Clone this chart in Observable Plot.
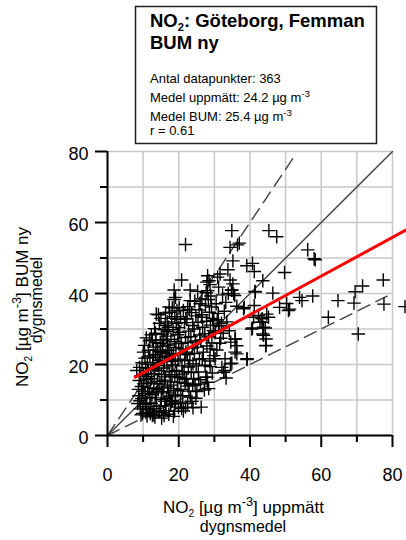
<!DOCTYPE html>
<html>
<head>
<meta charset="utf-8">
<script src="https://cdn.jsdelivr.net/npm/d3@7"></script>
<script src="https://cdn.jsdelivr.net/npm/@observablehq/plot@0.6"></script>
<style>
  html, body { margin: 0; padding: 0; background: white; }
  #wrap { position: relative; width: 406px; height: 540px; overflow: hidden; font-family: "Liberation Sans", Arial, sans-serif; }
  #overlay { position: absolute; left: 0; top: 0; pointer-events: none; }
</style>
</head>
<body>
<div id="wrap"></div>
<script>
// ---- Data ----
const titleLines = ["Göteborg, Femman", "BUM ny"];
const nPoints = [363];
const meanMeasured = [24.2];
const meanBum = [25.4];
const rValue = [0.61];

const axisMajorTicks = [0, 20, 40, 60, 80];
const axisMinorTicks = [10, 30, 50, 70];
const gridTicks = [0, 10, 20, 30, 40, 50, 60, 70, 80];

// regression line (BUM = intercept + slope * measured), drawn over its x-range
const fitIntercept = [12.2];
const fitSlope = [0.545];
const fitRange = [7.8, 84.5];

// reference lines through origin: slope and x end
const refSlopes = [1.5, 1, 0.5];
const refEndX = [52.2, 80, 78.5];
const refDash = ["13,7", null, "13,7"];

// scatter points: [measured, BUM]
const densePoints = [
  [8.2,18.3],[9.0,19.2],[8.5,9.0],[9.2,7.5],[8.8,11.2],[9.5,13.8],[9.8,6.2],[8.9,15.5],[9.6,10.4],[10.0,8.1],[9.3,16.8],[9.9,12.5],[8.7,13.0],[9.4,5.8],[10.1,17.2],[9.7,20.5],[10.2,14.6],[9.1,9.8],
  [10.1,23.5],[10.5,21.8],[10.8,6.5],[11.0,9.2],[10.6,11.8],[11.3,13.5],[10.9,15.9],[11.5,18.2],[11.2,20.1],[10.4,25.4],[11.8,26.7],[11.6,7.3],[11.9,10.7],[11.1,5.5],[10.7,19.0],[11.7,12.3],[11.4,16.6],[11.9,22.4],[11.5,24.0],[12.0,14.8],
  [12.2,9.0],[12.5,11.5],[12.8,6.8],[13.0,13.2],[12.4,16.0],[13.3,18.5],[12.7,20.6],[13.5,22.8],[12.9,24.9],[13.6,26.2],[12.3,28.4],[13.2,30.1],[13.7,34.2],[14.3,34.0],[12.6,5.6],[13.8,8.2],[13.4,10.6],[14.0,15.3],[13.1,17.4],[13.9,19.8],[12.8,21.9],[14.1,24.1],[13.5,28.8],[13.0,7.6],[13.7,12.0],
  [14.6,31.6],[15.0,33.0],[15.3,28.5],[14.8,26.0],[15.5,23.4],[14.5,21.2],[15.8,19.0],[15.2,17.2],[14.7,14.5],[15.6,12.4],[15.1,10.1],[14.9,8.3],[15.7,6.4],[15.4,25.1],[14.4,18.2],[16.0,15.6],[15.9,29.8],[15.0,22.0],[15.3,13.4],[16.0,20.8],[15.8,26.9],[15.2,4.9],[16.1,9.6],[14.9,23.6],
  [16.3,34.5],[17.4,34.7],[16.8,32.0],[17.2,30.5],[16.5,28.0],[17.8,27.1],[16.9,25.5],[17.5,24.0],[16.4,22.3],[17.9,21.0],[16.7,19.6],[17.3,18.0],[16.2,16.5],[17.6,15.1],[16.9,13.7],[17.1,12.0],[16.6,10.5],[17.7,8.8],[16.4,7.0],[17.2,6.0],[18.0,33.0],[16.8,29.3],[18.0,22.7],[17.8,14.2],[17.9,9.5],[17.0,23.1],[18.1,17.1],[17.3,36.2],
  [18.2,35.9],[19.5,35.2],[18.9,33.5],[19.3,31.6],[18.4,29.8],[19.7,28.4],[18.8,26.5],[19.2,24.8],[18.5,23.0],[19.8,21.5],[18.3,19.9],[19.4,18.3],[18.9,16.6],[19.6,15.0],[18.6,13.2],[19.1,11.4],[18.2,9.9],[19.9,8.0],[18.8,6.8],[19.5,32.7],[19.0,21.0],[19.7,12.6],[20.0,25.9],[20.0,30.4],
  [21.3,35.2],[20.5,33.5],[21.6,31.8],[20.3,29.1],[21.9,27.6],[20.7,26.0],[21.2,24.4],[20.4,22.9],[21.7,21.3],[20.9,19.6],[21.5,18.0],[20.2,16.3],[21.8,14.7],[20.6,13.0],[21.1,11.2],[20.5,9.4],[21.9,8.0],[20.1,36.0],[22.0,23.5],[21.6,15.9],[22.0,33.0],[21.3,6.9],
  [22.5,36.3],[23.6,34.6],[22.3,32.8],[23.9,31.0],[22.8,29.4],[23.4,27.8],[22.6,26.2],[23.8,24.6],[22.4,22.8],[23.1,21.1],[22.7,19.3],[23.5,17.7],[22.2,16.0],[23.9,14.3],[22.9,12.5],[23.3,10.8],[22.5,9.0],[24.0,7.8],[23.0,35.5],[24.0,20.2],
  [24.5,37.8],[25.7,35.4],[24.8,33.7],[25.4,31.9],[24.3,30.0],[25.9,28.3],[24.7,26.6],[25.2,24.9],[24.4,23.1],[25.8,21.4],[24.9,19.6],[25.5,17.9],[24.2,16.1],[24.6,14.2],[25.1,12.4],[24.8,10.5],
  [27.5,36.6],[26.4,34.0],[27.8,32.2],[26.7,30.5],[27.3,28.7],[26.2,26.9],[27.9,25.2],[26.6,21.6],[27.4,19.8],[27.6,16.4],[26.1,14.5],[27.2,12.8],[27.7,40.2],[26.5,38.5],
  [28.3,38.3],[29.2,36.2],[28.6,34.7],[29.5,33.0],[28.9,31.1],[29.7,29.5],[28.4,27.8],[29.3,26.1],[29.8,22.5],[28.7,21.0],[29.4,17.6],[29.0,39.3],
  [30.8,32.6],[31.4,30.9],[30.3,29.0],[31.8,27.4],[31.1,34.4],[32.0,31.6],[32.5,28.8],[31.5,26.0],[32.8,35.0],[33.5,32.0],[34.8,41.0],[33.9,40.0],[34.2,29.5],[33.2,37.5],[32.3,39.6],[31.2,41.8],
  [12.0,6.2],[13.3,5.2],[14.5,6.9],[15.9,5.6],[16.3,8.3],[18.5,5.4],[10.6,8.8],[12.1,18.9],[14.2,12.9],[17.5,11.0],[19.0,9.0],[20.8,7.6],[22.6,13.9],[23.7,9.6],[21.0,17.3],[12.6,26.9],[10.9,27.5],[16.2,31.0],[19.1,38.9],[13.0,5.9]
];
const sparsePoints = [
  [34.9,57.7],[45.3,57.7],[47.5,56.0],[21.9,53.8],[34.4,53.0],[36.5,53.7],[37.0,54.2],[56.2,52.3],[58.3,49.5],[58.0,49.8],
  [35.2,49.2],[39.1,47.8],[40.7,48.5],[41.2,46.2],[33.8,46.7],[49.7,45.9],[20.8,43.8],[28.1,45.0],[28.5,43.6],[30.9,44.6],
  [31.6,45.5],[34.4,43.8],[35.2,42.7],[43.6,43.6],[77.4,43.8],[71.6,42.1],[69.5,40.5],[18.7,41.0],[23.2,41.0],[25.3,40.6],
  [28.1,40.8],[28.8,42.5],[35.4,39.9],[41.4,40.6],[46.4,40.1],[57.6,39.3],[53.9,38.9],[54.6,38.0],[64.7,38.0],[69.2,37.3],
  [77.6,37.0],[83.5,36.3],[18.7,38.3],[23.2,38.0],[26.0,37.1],[30.5,37.1],[48.3,36.1],[50.3,37.2],[51.1,35.6],[41.2,36.6],
  [38.4,36.1],[36.3,36.4],[42.4,33.8],[44.7,34.2],[45.2,33.3],[62.0,33.3],[70.4,28.6],[40.5,30.0],[42.8,31.9],[43.8,30.5],
  [43.6,28.6],[44.5,27.2],[44.4,25.3],[35.8,27.2],[36.3,25.3],[35.8,23.5],[34.6,26.3],[39.1,21.4],[34.9,20.4],[33.0,21.6],
  [33.0,18.3],[33.3,16.2],[32.1,19.2],[30.7,24.1],[30.2,21.6],[27.9,16.4],[28.1,15.0],[26.3,8.0],[28.8,19.4],[25.6,15.7],
  [26.9,23.5],[28.8,24.4],[43.4,31.9],[44.3,30.3],[43.8,28.2],[44.5,25.4],[40.7,30.3],[39.2,21.6],[35.9,27.2],[36.3,23.0],
  [34.5,20.2],[32.6,17.8],[28.4,13.2],[27.9,43.2],[34.9,40.9],[35.7,39.4],[41.5,40.4],[38.2,35.7],[41.0,33.3],[43.4,32.9],
  [50.8,35.2],[26.5,33.3],[29.8,32.4],[31.2,31.0]
];

// ---- Build tables for the library ----
const points = densePoints.concat(sparsePoints).map(([x, y]) => ({x, y}));
const fitLine = fitRange.map(x => ({x, y: fitIntercept[0] + fitSlope[0] * x}));
const refLines = refSlopes.flatMap((s, i) => [0, refEndX[i]].map(x => ({x, y: s * x, id: i})));

const FONT = '"Liberation Sans", Arial, Helvetica, sans-serif';
const W = 406, H = 540, ML = 107, MR = 14, MT = 151, MB = 105;
// tick lengths converted from pixels to data units
const unitX = 80 / (W - ML - MR), unitY = 80 / (H - MT - MB);
const majorLen = 12, minorLen = 7;

const chart = Plot.plot({
  width: W,
  height: H,
  marginLeft: ML,
  marginRight: MR,
  marginTop: MT,
  marginBottom: MB,
  x: {domain: [0, 80], axis: null},
  y: {domain: [0, 80], axis: null},
  style: {fontFamily: FONT, fontSize: "18px", color: "black", background: "white", overflow: "visible"},
  marks: [
    Plot.ruleX(gridTicks, {x: d => d, y1: 0, y2: 80, stroke: "#c8c8c8", strokeWidth: 1.5}),
    Plot.ruleY(gridTicks, {y: d => d, x1: 0, x2: 80, stroke: "#c8c8c8", strokeWidth: 1.5}),
    ...refSlopes.map((s, i) => Plot.line(refLines.filter(d => d.id === i), {
      x: "x", y: "y", stroke: "#404040", strokeWidth: 1.4, strokeDasharray: refDash[i]
    })),
    Plot.dot(points, {x: "x", y: "y", symbol: "plus", r: 4.4, stroke: "black", strokeWidth: 1.4}),
    Plot.line(fitLine, {x: "x", y: "y", stroke: "#ff0000", strokeWidth: 3}),
    // axis lines
    Plot.ruleX([0], {x: d => d, y1: 0, y2: 80, stroke: "black", strokeWidth: 2}),
    Plot.ruleY([0], {y: d => d, x1: 0, x2: 80, stroke: "black", strokeWidth: 2}),
    // ticks
    Plot.ruleX(axisMajorTicks, {x: d => d, y1: 0, y2: -majorLen * unitY, stroke: "black", strokeWidth: 2}),
    Plot.ruleX(axisMinorTicks, {x: d => d, y1: 0, y2: -minorLen * unitY, stroke: "black", strokeWidth: 2}),
    Plot.ruleY(axisMajorTicks, {y: d => d, x1: 0, x2: -majorLen * unitX, stroke: "black", strokeWidth: 2}),
    Plot.ruleY(axisMinorTicks, {y: d => d, x1: 0, x2: -minorLen * unitX, stroke: "black", strokeWidth: 2}),
    // tick labels
    Plot.text(axisMajorTicks, {x: d => d, y: 0, dy: 40, text: d => String(d), fontSize: 18, fill: "black"}),
    Plot.text(axisMajorTicks, {x: 0, y: d => d, dx: -19, dy: 3, text: d => String(d), textAnchor: "end", fontSize: 18, fill: "black"})
  ]
});

const wrap = document.getElementById("wrap");
wrap.appendChild(chart);

// ---- Overlay: info box and axis titles (real text) ----
const svg = d3.select(wrap).append("svg")
  .attr("id", "overlay")
  .attr("width", W).attr("height", H)
  .style("font-family", FONT);

function richText(g, parts, size) {
  // parts: [text, kind] where kind: "n" normal, "sub", "sup"
  const t = g.append("text").attr("font-size", size);
  let shift = 0;
  parts.forEach(([s, kind]) => {
    let target = 0, fs = size;
    if (kind === "sub") { target = size * 0.22; fs = size * 0.6; }
    if (kind === "sup") { target = -size * 0.42; fs = size * 0.75; }
    t.append("tspan").attr("dy", target - shift).attr("font-size", fs).text(s);
    shift = target;
  });
  return t;
}

// info box
svg.append("rect").attr("x", 135.5).attr("y", 6.5).attr("width", 241).attr("height", 137)
  .attr("fill", "white").attr("stroke", "#222").attr("stroke-width", 1.5);

const box = svg.append("g");
richText(box, [["NO", "n"], ["2", "sub"], [": " + titleLines[0], "n"]], 18.5)
  .attr("x", 150).attr("y", 27).attr("font-weight", "bold");
richText(box, [[titleLines[1], "n"]], 18.5)
  .attr("x", 150).attr("y", 49).attr("font-weight", "bold");
richText(box, [["Antal datapunkter: " + nPoints[0], "n"]], 13).attr("x", 150).attr("y", 83);
richText(box, [["Medel uppmätt: " + meanMeasured[0].toFixed(1) + " µg m", "n"], ["-3", "sup"]], 13).attr("x", 150).attr("y", 102);
richText(box, [["Medel BUM: " + meanBum[0].toFixed(1) + " µg m", "n"], ["-3", "sup"]], 13).attr("x", 150).attr("y", 121);
richText(box, [["r = " + rValue[0].toFixed(2), "n"]], 13).attr("x", 150).attr("y", 135);

// x-axis title
richText(svg, [["NO", "n"], ["2", "sub"], [" [µg m", "n"], ["-3", "sup"], ["] uppmätt", "n"]], 17)
  .attr("x", 243.5).attr("y", 513).attr("text-anchor", "middle");
svg.append("text").attr("x", 243).attr("y", 532).attr("text-anchor", "middle")
  .attr("font-size", 16).text("dygnsmedel");

// y-axis title (rotated)
const yt = svg.append("g").attr("transform", "translate(28,307) rotate(-90)");
richText(yt, [["NO", "n"], ["2", "sub"], [" [µg m", "n"], ["-3", "sup"], ["] BUM ny", "n"]], 17)
  .attr("text-anchor", "middle").attr("x", 0).attr("y", 0);
svg.append("g").attr("transform", "translate(42,300) rotate(-90)")
  .append("text").attr("text-anchor", "middle").attr("font-size", 16).text("dygnsmedel");
</script>
</body>
</html>
